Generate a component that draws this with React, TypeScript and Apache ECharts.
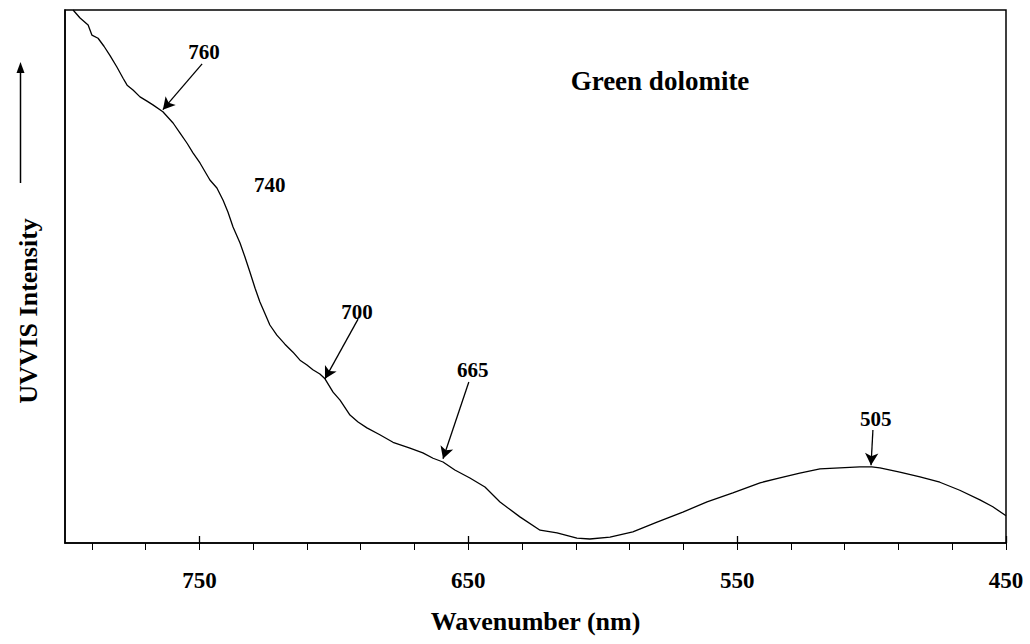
import React, { useEffect, useRef } from "react";
import * as echarts from "echarts";

// Wavelength (nm) and relative UV-VIS intensity (arbitrary units, 0-100)
const wavelength = [
  797.0, 794.4, 791.4, 790.0, 787.7, 785.5, 783.3, 780.7, 778.4, 776.9, 774.7, 772.1, 769.5, 767.3,
  763.6, 759.8, 757.2, 754.6, 752.4, 749.8, 746.1, 743.5, 741.2, 739.4, 737.5, 734.9, 733.1, 731.2,
  729.3, 727.5, 725.6, 723.8, 721.2, 718.2, 715.2, 712.6, 710.0, 707.8, 705.2, 703.3, 700.3, 697.7,
  694.0, 691.0, 687.7, 682.9, 678.0, 671.7, 666.9, 663.1, 659.4, 655.0, 649.4, 643.8, 638.2, 630.8,
  623.3, 617.0, 609.6, 604.8, 597.3, 588.8, 579.8, 570.2, 561.2, 551.6, 541.5, 534.1, 526.7, 519.2,
  511.8, 504.4, 499.9, 496.9, 489.5, 482.0, 474.6, 467.2, 459.7, 454.9, 450.0,
];
const intensity = [
  100.0, 98.5, 97.2, 95.3, 94.7, 93.2, 91.5, 89.3, 87.2, 85.9, 85.0, 83.7, 82.9, 82.2,
  80.9, 78.8, 76.9, 75.0, 73.2, 71.3, 68.1, 66.6, 64.3, 62.1, 59.3, 56.3, 53.7, 50.8,
  47.8, 45.2, 43.0, 40.9, 39.0, 37.3, 35.8, 34.3, 33.4, 32.5, 31.7, 30.8, 28.3, 26.8,
  24.0, 22.7, 21.6, 20.3, 18.9, 17.8, 16.9, 15.9, 15.2, 13.7, 12.2, 10.5, 7.7, 4.9,
  2.4, 1.9, 0.9, 0.75, 1.1, 2.1, 3.9, 5.8, 7.7, 9.4, 11.3, 12.2, 13.1, 13.9,
  14.1, 14.3, 14.3, 14.1, 13.3, 12.4, 11.4, 9.9, 8.1, 6.8, 5.1,
];

// Axis ticks and labels
const majorTicks = [450, 550, 650, 750];
const minorTicks = [
  450, 470, 490, 510, 530, 550, 570, 590, 610, 630, 650, 670, 690, 710, 730, 750, 770, 790,
];

// Peak annotations
const peakLabels = ["760", "740", "700", "665", "505"];
const peakLabelPos = [
  [748.3, 92.1],
  [723.8, 67.2],
  [691.4, 43.3],
  [648.3, 32.5],
  [498.4, 23.3],
];
const arrowFrom = [
  [749.0, 89.9],
  [691.0, 42.0],
  [649.8, 30.2],
  [499.5, 21.2],
];
const arrowTo = [
  [763.6, 81.3],
  [703.3, 30.8],
  [659.4, 15.8],
  [500.2, 14.6],
];

const FONT = "'Liberation Serif', 'Times New Roman', serif";

export default function App() {
  const ref = useRef<HTMLDivElement>(null);

  useEffect(() => {
    if (!ref.current) return;
    const chart = echarts.init(ref.current, undefined, { renderer: "svg" });
    const data = wavelength.map((w, i) => [w, intensity[i]]);

    const baseX = {
      type: "value",
      min: 450,
      max: 800,
      inverse: true,
      position: "bottom",
      splitLine: { show: false },
    };

    chart.setOption({
      animation: false,
      backgroundColor: "#ffffff",
      grid: {
        left: 65,
        right: 24,
        top: 10,
        bottom: 101,
        show: true,
        borderColor: "#000",
        borderWidth: 1.5,
        backgroundColor: "transparent",
      },
      xAxis: [
        {
          ...baseX,
          name: "Wavenumber (nm)",
          nameLocation: "middle",
          nameGap: 65,
          nameTextStyle: { fontFamily: FONT, fontWeight: "bold", fontSize: 26, color: "#000" },
          axisLine: { show: true, lineStyle: { color: "#000", width: 1.5 } },
          axisTick: {
            show: true,
            inside: false,
            length: 7,
            customValues: minorTicks,
            lineStyle: { color: "#000", width: 1 },
          },
          axisLabel: {
            show: true,
            customValues: majorTicks,
            margin: 26,
            fontFamily: FONT,
            fontWeight: "bold",
            fontSize: 23,
            color: "#000",
          },
        },
        {
          ...baseX,
          axisLine: { show: false },
          axisTick: {
            show: true,
            inside: true,
            length: 7,
            customValues: majorTicks,
            lineStyle: { color: "#000", width: 1.3 },
          },
          axisLabel: { show: false },
        },
      ],
      yAxis: {
        type: "value",
        min: 0,
        max: 100,
        axisLine: { show: true, lineStyle: { color: "#000", width: 1.5 } },
        axisTick: { show: false },
        axisLabel: { show: false },
        splitLine: { show: false },
      },
      series: [
        {
          type: "line",
          data,
          showSymbol: false,
          symbol: "none",
          clip: true,
          lineStyle: { color: "#000", width: 1.3 },
          markLine: {
            silent: true,
            symbol: ["none", "arrow"],
            symbolSize: [10, 12],
            lineStyle: { color: "#000", width: 1.3, type: "solid" },
            itemStyle: { color: "#000" },
            label: { show: false },
            data: arrowFrom.map((f, i) => [{ coord: f }, { coord: arrowTo[i] }]),
          },
          markPoint: {
            silent: true,
            symbol: "circle",
            symbolSize: 1,
            itemStyle: { color: "rgba(0,0,0,0)" },
            label: {
              show: true,
              position: "inside",
              fontFamily: FONT,
              fontWeight: "bold",
              fontSize: 21,
              color: "#000",
              formatter: (p: any) => p.name,
            },
            data: peakLabels.map((t, i) => ({ name: t, coord: peakLabelPos[i] })),
          },
        },
      ],
      graphic: [
        {
          type: "text",
          x: 660,
          y: 81,
          style: {
            text: "Green dolomite",
            fontFamily: FONT,
            fontWeight: "bold",
            fontSize: 27,
            fill: "#000",
            textAlign: "center",
            textVerticalAlign: "middle",
          },
        },
        {
          type: "text",
          x: 28,
          y: 311,
          rotation: Math.PI / 2,
          style: {
            text: "UVVIS Intensity",
            fontFamily: FONT,
            fontWeight: "bold",
            fontSize: 26,
            fill: "#000",
            textAlign: "center",
            textVerticalAlign: "middle",
          },
        },
        {
          type: "line",
          shape: { x1: 20.5, y1: 183, x2: 20.5, y2: 72 },
          style: { stroke: "#000", lineWidth: 1.5 },
        },
        {
          type: "polygon",
          shape: { points: [[20.5, 62], [16.5, 73], [24.5, 73]] },
          style: { fill: "#000" },
        },
      ],
    });

    return () => chart.dispose();
  }, []);

  return (
    <div
      ref={ref}
      style={{ position: "fixed", left: 0, top: 0, width: 1030, height: 644, background: "#fff" }}
    />
  );
}
